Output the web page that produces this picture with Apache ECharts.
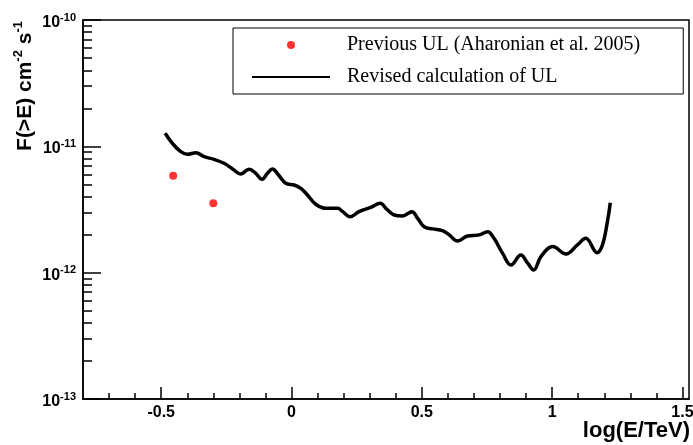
<!DOCTYPE html>
<html>
<head>
<meta charset="utf-8">
<script src="https://cdn.jsdelivr.net/npm/echarts@6/dist/echarts.min.js"></script>
<style>
html,body{margin:0;padding:0;background:#fff;}
#main{width:693px;height:445px;}
</style>
</head>
<body>
<div id="main"></div>
<script>
// ---- data ----
var prevX = [-0.454, -0.300];
var prevY = [5.85e-12, 3.54e-12];

var curveX = [-0.485,-0.457,-0.425,-0.399,-0.367,-0.335,-0.297,-0.259,-0.226,-0.195,
  -0.163,-0.137,-0.114,-0.092,-0.073,-0.050,-0.022,0.010,0.036,0.061,
  0.093,0.132,0.177,0.196,0.225,0.259,0.304,0.340,0.366,0.394,
  0.426,0.462,0.484,0.509,0.541,0.579,0.605,0.637,0.675,0.720,
  0.752,0.777,0.810,0.842,0.880,0.906,0.929,0.957,1.002,1.053,
  1.097,1.129,1.172,1.193,1.213,1.223];
var curveY = [1.27e-11,1.057e-11,9.07e-12,8.65e-12,8.9e-12,8.28e-12,7.89e-12,7.34e-12,6.62e-12,6.04e-12,
  6.58e-12,6.12e-12,5.48e-12,6.12e-12,6.62e-12,5.93e-12,5.1e-12,4.94e-12,4.65e-12,4.12e-12,
  3.48e-12,3.23e-12,3.23e-12,3.04e-12,2.77e-12,3.04e-12,3.29e-12,3.54e-12,3.17e-12,2.86e-12,
  2.81e-12,3.04e-12,2.69e-12,2.31e-12,2.22e-12,2.15e-12,1.99e-12,1.78e-12,1.95e-12,1.99e-12,
  2.11e-12,1.87e-12,1.42e-12,1.15e-12,1.38e-12,1.19e-12,1.05e-12,1.34e-12,1.61e-12,1.405e-12,
  1.66e-12,1.87e-12,1.44e-12,1.66e-12,2.61e-12,3.58e-12];

var xLabels = [-0.5, 0, 0.5, 1, 1.5];
var xMinorTicks = [-0.7,-0.6,-0.4,-0.3,-0.2,-0.1,0.1,0.2,0.3,0.4,0.6,0.7,0.8,0.9,1.1,1.2,1.3,1.4];
var yLabels = [1e-13, 1e-12, 1e-11, 1e-10];
var yMinorTicks = [];
[-13, -12, -11].forEach(function (e) {
  for (var m = 2; m <= 9; m++) yMinorTicks.push(m * Math.pow(10, e));
});

var seriesNames = ['Previous UL (Aharonian et al. 2005)', 'Revised calculation of UL'];
var xTitle = 'log(E/TeV)';

// ---- build ----
function zip(a, b) { return a.map(function (v, i) { return [v, b[i]]; }); }

var chart = echarts.init(document.getElementById('main'), null, {renderer: 'canvas'});
var SANS = 'Liberation Sans';
var XMIN = -0.8, XMAX = 1.525, YMIN = 1e-13, YMAX = 1e-10;

chart.setOption({
  animation: false,
  backgroundColor: '#fff',
  grid: {left: 83, right: 4, top: 20, bottom: 46, outerBoundsMode: 'none', containLabel: false,
    show: true, borderColor: '#000', borderWidth: 1.5, backgroundColor: 'transparent'},
  legend: {
    orient: 'vertical', left: 233, top: 28,
    data: [
      {name: seriesNames[0]},
      {name: seriesNames[1], itemStyle: {opacity: 0}}
    ],
    itemWidth: 78, itemHeight: 8, itemGap: 12,
    padding: [7, 43, 7, 18],
    borderColor: '#000', borderWidth: 1, backgroundColor: '#fff',
    textStyle: {fontFamily: 'Liberation Serif', fontSize: 20, color: '#000', padding: [0, 0, 0, 12]}
  },
  xAxis: [{
    type: 'value', min: XMIN, max: XMAX, position: 'bottom',
    axisLine: {onZero: false, lineStyle: {color: '#000', width: 1.5}},
    axisTick: {inside: true, length: 12, customValues: xLabels, lineStyle: {color: '#000', width: 1.5}},
    axisLabel: {customValues: xLabels, margin: 6, fontFamily: SANS, fontWeight: 'bold', fontSize: 16, color: '#000'},
    splitLine: {show: false}
  }, {
    type: 'value', min: XMIN, max: XMAX, position: 'bottom',
    axisLine: {show: false, onZero: false},
    axisTick: {inside: true, length: 6, customValues: xMinorTicks, lineStyle: {color: '#000', width: 1.5}},
    axisLabel: {show: false},
    splitLine: {show: false}
  }],
  yAxis: [{
    type: 'log', logBase: 10, min: YMIN, max: YMAX, position: 'left',
    axisLine: {onZero: false, lineStyle: {color: '#000', width: 1.5}},
    axisTick: {inside: true, length: 18, customValues: yLabels, lineStyle: {color: '#000', width: 1.5}},
    axisLabel: {
      customValues: yLabels, margin: 7,
      formatter: function (v) { return '{b|10}{s|' + Math.round(Math.log10(v)) + '}'; },
      rich: {
        b: {fontFamily: SANS, fontWeight: 'bold', fontSize: 16, lineHeight: 16, padding: [5, 0, 0, 0], color: '#000'},
        s: {fontFamily: SANS, fontWeight: 'bold', fontSize: 11, lineHeight: 11, verticalAlign: 'top', color: '#000'}
      }
    },
    splitLine: {show: false}
  }, {
    type: 'log', logBase: 10, min: YMIN, max: YMAX, position: 'left',
    axisLine: {show: false, onZero: false},
    axisTick: {inside: true, length: 9, customValues: yMinorTicks, lineStyle: {color: '#000', width: 1.5}},
    axisLabel: {show: false},
    splitLine: {show: false}
  }],
  graphic: [{
    type: 'text', x: 22, y: 86, rotation: Math.PI / 2,
    style: {
      text: '{b|F(>E) cm}{s|-2}{b| s}{s|-1}',
      align: 'center', verticalAlign: 'middle',
      rich: {
        b: {fontFamily: SANS, fontWeight: 'bold', fontSize: 21, lineHeight: 21, padding: [6, 0, 0, 0], fill: '#000'},
        s: {fontFamily: SANS, fontWeight: 'bold', fontSize: 13, lineHeight: 13, verticalAlign: 'top', fill: '#000'}
      }
    }
  }, {
    type: 'text', right: 3, top: 420,
    style: {text: xTitle, fontFamily: SANS, fontWeight: 'bold', fontSize: 22, fill: '#000'}
  }],
  series: [{
    name: seriesNames[0], type: 'scatter', xAxisIndex: 0, yAxisIndex: 0,
    data: zip(prevX, prevY), symbol: 'circle', symbolSize: 8,
    itemStyle: {color: '#ff0000'}
  }, {
    name: seriesNames[1], type: 'line', xAxisIndex: 0, yAxisIndex: 0,
    data: zip(curveX, curveY), symbol: 'none', smooth: 0.4,
    lineStyle: {color: '#000', width: 3.5}, itemStyle: {color: 'rgba(0,0,0,0)'}
  }]
});
</script>
</body>
</html>
